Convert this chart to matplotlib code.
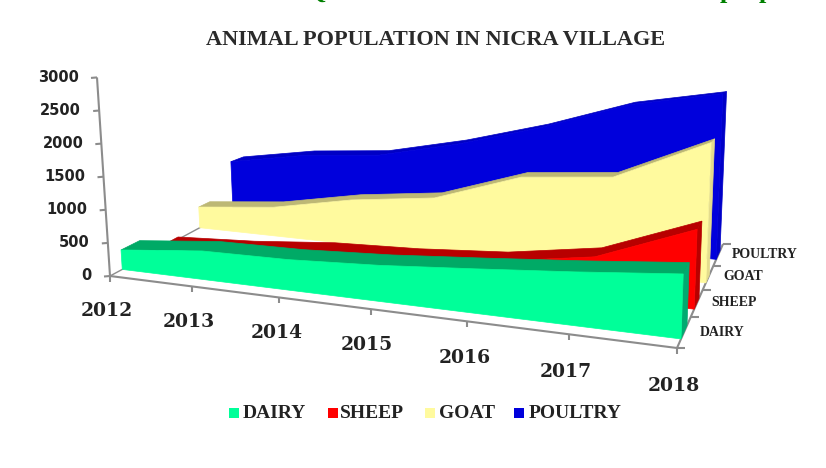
#!/usr/bin/env python3
"""Animal population in NICRA village, 3-D area chart drawn through a small floor/height projection."""
import matplotlib
matplotlib.use("Agg")
import matplotlib.pyplot as plt
import numpy as np

YEARS = ["2012", "2013", "2014", "2015", "2016", "2017", "2018"]
VALUE_TICKS = [0, 500, 1000, 1500, 2000, 2500, 3000]
SERIES = ["DAIRY", "SHEEP", "GOAT", "POULTRY"]

dairy = [300, 415, 420, 470, 550, 635, 733]
sheep = [40, 110, 220, 260, 340, 520, 975]
goat = [375, 490, 720, 850, 1250, 1330, 1870]
poultry = [960, 1160, 1240, 1500, 1830, 2230, 2430]

VALUES = [dairy, sheep, goat, poultry]
FRONT = ["#00FF99", "#FF0000", "#FFFA9E", "#0000DC"]
TOP = ["#00AA66", "#B80000", "#BDB875", "#0000C4"]
SIDE = ["#00AA70", "#B80000", "#E4DC8C", "#0000C8"]
DEPTH = [0.11, 0.10, 0.08, 0.10]

W, H = 826, 468
# floor corners (year fraction, depth fraction) -> pixel
src = [(0, 0), (1, 0), (1, 1), (0, 1)]
dst = [(110, 276), (677, 348), (723, 244), (255, 198)]
# height of 3000 at the same corners, pixels
HT = np.array([199, 272, 190, 140], float)
VP = np.array([485.0, 6000.0])  # vertical vanishing point


def floor_matrix():
    a, b = [], []
    for (s, t), (x, y) in zip(src, dst):
        a.append([s, t, 1, 0, 0, 0, -s * x, -t * x]); b.append(x)
        a.append([0, 0, 0, s, t, 1, -s * y, -t * y]); b.append(y)
    h = np.linalg.solve(np.array(a, float), np.array(b, float))
    return np.append(h, 1).reshape(3, 3)


M = floor_matrix()


def proj(t, val, d):
    """t: year fraction, val: value, d: depth fraction -> pixel x, y."""
    p = M @ np.array([t, d, 1.0])
    p = p[:2] / p[2]
    up = p - VP
    up = up / np.linalg.norm(up)
    s = (HT[0] * (1 - t) * (1 - d) + HT[1] * t * (1 - d) + HT[2] * t * d + HT[3] * (1 - t) * d)
    return p + up * s * val / 3000.0


fig = plt.figure(figsize=(W / 100, H / 100), dpi=100)
ax = fig.add_axes([0, 0, 1, 1])
ax.set_xlim(0, W); ax.set_ylim(H, 0); ax.axis("off")

AXC = "#8C8C8C"
TXT = "#222222"


def seg(a, b, lw=1.5):
    ax.plot([a[0], b[0]], [a[1], b[1]], color=AXC, lw=lw, solid_capstyle="butt", zorder=1)


# axes
seg(proj(0, 0, 0), proj(0, 3000, 0))
seg(proj(0, 0, 0), proj(1, 0, 0))
seg(proj(1, 0, 0), proj(1, 0, 1))
seg(proj(0, 0, 0), proj(0, 0, 1), lw=1.0)
for v in VALUE_TICKS:
    p = proj(0, v, 0)
    seg(p, p + np.array([-6, 0.5]))
    ax.text(p[0] - 18, p[1], f"{v}", ha="right", va="center", fontsize=10.5, fontweight="bold",
            family="DejaVu Sans", color=TXT)
n = len(YEARS)
year_xy = [(107, 311), (189, 322), (277, 333), (367, 345), (465, 358), (566, 372), (674, 386)]
for i, y in enumerate(YEARS):
    p = proj(i / (n - 1), 0, 0)
    seg(p, p + np.array([0, 6]))
    ax.text(*year_xy[i], y, ha="center", va="center", fontsize=13.5, fontweight="bold",
            family="DejaVu Serif", color=TXT)
for j in range(5):
    p = proj(1, 0, j / 4)
    seg(p, p + np.array([8, 0]))
cat_xy = [(722, 333), (734, 303), (743, 277), (765, 254)]
for name, (x, y) in zip(SERIES, cat_xy):
    ax.text(x, y, name, ha="center", va="center", fontsize=10, fontweight="bold",
            family="Liberation Serif", color=TXT)

# areas, back to front
for k in range(3, -1, -1):
    vals = VALUES[k]
    d0 = 0.07 + 0.25 * k
    d1 = d0 + DEPTH[k]
    ts = [i / (n - 1) for i in range(n)]
    front_top = [proj(t, v, d0) for t, v in zip(ts, vals)]
    back_top = [proj(t, v, d1) for t, v in zip(ts, vals)]
    front_poly = [proj(0, 0, d0)] + front_top + [proj(1, 0, d0)]
    top_poly = front_top + back_top[::-1]
    side_poly = [proj(1, 0, d0), front_top[-1], back_top[-1], proj(1, 0, d1)]
    ax.fill(*zip(*top_poly), color=TOP[k], lw=0.5, zorder=2 + (3 - k))
    ax.fill(*zip(*side_poly), color=SIDE[k], lw=0.5, zorder=2 + (3 - k))
    ax.fill(*zip(*front_poly), color=FRONT[k], lw=0.5, zorder=2 + (3 - k))

ax.text(436, 40, "ANIMAL POPULATION IN NICRA VILLAGE", ha="center", va="center", fontsize=16,
        fontweight="bold", family="Liberation Serif", color="#2A2A2A")

# green heading of the page above, cut off by the top edge
for x, ch in [(316, "Q"), (727, "p"), (766, "p")]:
    ax.text(x, -2, ch, ha="center", va="baseline", fontsize=19, fontweight="bold",
            family="Liberation Serif", color="#008000", clip_on=True)

# legend
leg_sq = [234, 333, 430, 519]
leg_tx = [243, 340, 439, 529]
for k, name in enumerate(SERIES):
    ax.fill([leg_sq[k] - 5, leg_sq[k] + 5, leg_sq[k] + 5, leg_sq[k] - 5],
            [408, 408, 418, 418], color=FRONT[k], lw=0)
    ax.text(leg_tx[k], 413, name, ha="left", va="center", fontsize=14, fontweight="bold",
            family="Liberation Serif", color=TXT)

fig.savefig("out.png", dpi=100)
plt.close(fig)
